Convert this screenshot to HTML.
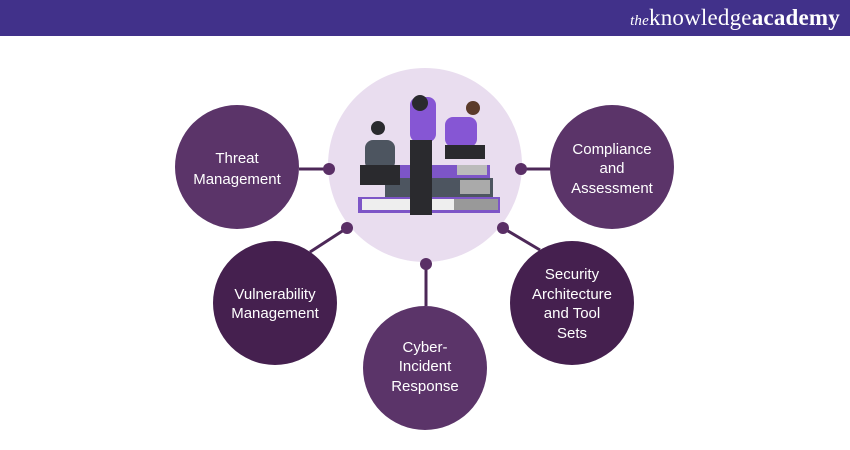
<!DOCTYPE html>
<html><head><style>
body{margin:0;width:850px;height:450px;background:#fff;overflow:hidden;font-family:"Liberation Sans",sans-serif}
.hdr{position:absolute;left:0;top:0;width:850px;height:36px;background:#41318a}
.logo{position:absolute;right:10px;top:5px;color:#fff;font-family:"Liberation Serif",serif;font-size:23px;letter-spacing:0.2px}
.logo i{font-size:15px}
svg{position:absolute;left:0;top:0}
</style></head><body>
<div class="hdr"></div>
<div class="logo"><i>the</i>knowledge<b>academy</b></div>
<svg width="850" height="450" font-family="Liberation Sans, sans-serif" font-size="15" fill="#fff" text-anchor="middle">
<g stroke="#4d2858" stroke-width="3">
<line x1="299" y1="169" x2="329" y2="169"/>
<line x1="521" y1="169" x2="551" y2="169"/>
<line x1="347" y1="228" x2="310" y2="252"/>
<line x1="503" y1="228" x2="540" y2="250"/>
<line x1="426" y1="263" x2="426" y2="306"/>
</g>
<circle cx="425" cy="165" r="97" fill="#e9ddef"/>
<g fill="#5a2f66">
<circle cx="329" cy="169" r="6"/><circle cx="521" cy="169" r="6"/>
<circle cx="347" cy="228" r="6"/><circle cx="503" cy="228" r="6"/>
<circle cx="426" cy="264" r="6"/>
</g>
<!-- illustration -->
<rect x="358" y="197" width="142" height="16" fill="#7d55c7"/>
<rect x="362" y="199" width="92" height="11" fill="#eee"/>
<rect x="454" y="199" width="44" height="11" fill="#999"/>
<rect x="385" y="178" width="108" height="19" fill="#4d5560"/>
<rect x="460" y="180" width="30" height="14" fill="#aaa"/>
<rect x="400" y="165" width="90" height="13" fill="#7d55c7"/>
<rect x="457" y="165" width="30" height="10" fill="#bbb"/>
<rect x="410" y="97" width="26" height="45" rx="8" fill="#8656d4"/>
<rect x="410" y="140" width="22" height="75" fill="#2a2a2e"/>
<circle cx="420" cy="103" r="8" fill="#2a2a2e"/>
<rect x="445" y="117" width="32" height="30" rx="8" fill="#8656d4"/>
<rect x="445" y="145" width="40" height="14" fill="#2a2a2e"/>
<circle cx="473" cy="108" r="7" fill="#5b3a2a"/>
<rect x="365" y="140" width="30" height="30" rx="8" fill="#4d5560"/>
<rect x="360" y="165" width="40" height="20" fill="#2a2a2e"/>
<circle cx="378" cy="128" r="7" fill="#2a2a2e"/>
<circle cx="237" cy="167" r="62" fill="#5b3469"/>
<circle cx="612" cy="167" r="62" fill="#5b3469"/>
<circle cx="275" cy="303" r="62" fill="#45204f"/>
<circle cx="425" cy="368" r="62" fill="#5b3469"/>
<circle cx="572" cy="303" r="62" fill="#45204f"/>
<text x="237" y="163">Threat</text><text x="237" y="184">Management</text>
<text x="612" y="154">Compliance</text><text x="612" y="173">and</text><text x="612" y="193">Assessment</text>
<text x="275" y="299">Vulnerability</text><text x="275" y="318">Management</text>
<text x="425" y="352">Cyber-</text><text x="425" y="371">Incident</text><text x="425" y="391">Response</text>
<text x="572" y="279">Security</text><text x="572" y="299">Architecture</text><text x="572" y="318">and Tool</text><text x="572" y="338">Sets</text>
</svg>
</body></html>
